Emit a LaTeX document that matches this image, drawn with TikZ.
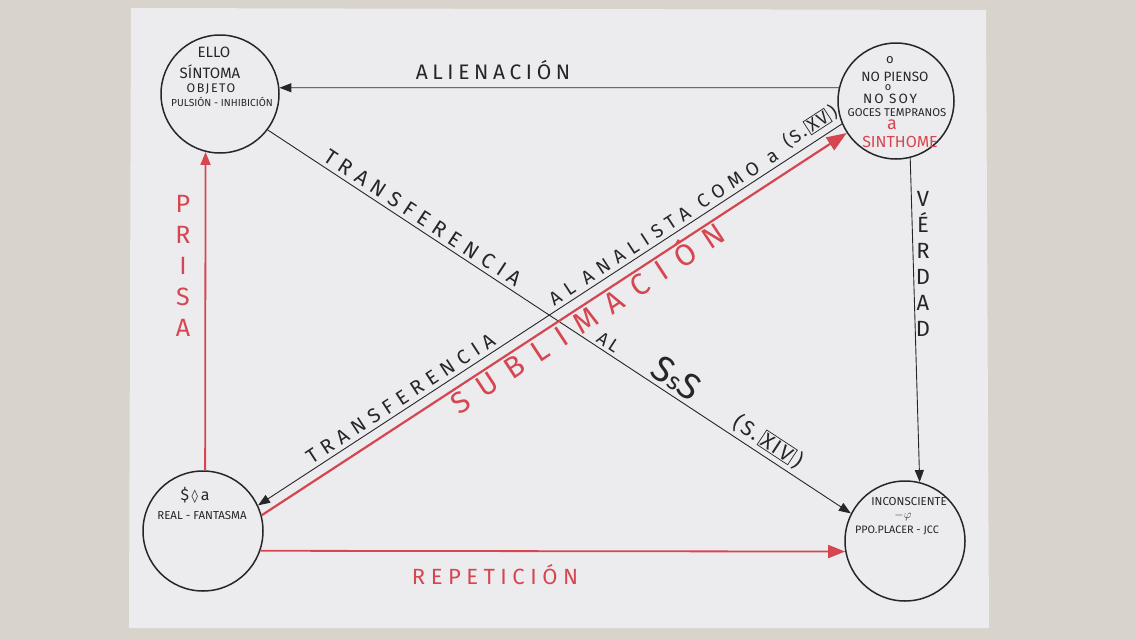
\documentclass[tikz,border=0pt]{standalone}
\usepackage{fontspec}
\setmainfont{Fira Sans}
\newfontfamily\symfam{DejaVu Sans}
\usetikzlibrary{arrows.meta}
\definecolor{ink}{RGB}{38,38,42}
\definecolor{pen}{RGB}{214,70,80}
\definecolor{paper}{RGB}{236,236,238}
\definecolor{desk}{RGB}{216,212,204}
\newcommand{\fs}[2]{\fontsize{#1}{#2}\selectfont}
\newcommand{\spaced}[1]{\addfontfeatures{LetterSpace=#1}}
\newcommand{\boxnum}[1]{\,{\fboxsep=1.2pt\fboxrule=0.7pt\fbox{#1}}\,}
\begin{document}
\begin{tikzpicture}[x=1pt,y=-1pt,
  state/.style={circle,draw=ink,line width=1.5pt,minimum size=#1,inner sep=0pt},
  txt/.style={inner sep=0pt,text=ink},
  rtxt/.style={inner sep=0pt,text=pen},
  blk/.style={draw=ink,line width=0.9pt,-{Triangle[length=12pt,width=9pt]}},
  redl/.style={draw=pen,line width=1.8pt,-{Triangle[length=13pt,width=10pt]}},
  redbig/.style={draw=pen,line width=2.2pt,-{Triangle[length=20pt,width=15pt]}},
  lab/.style={inner sep=1pt,text=ink},
]
\useasboundingbox (0,0) rectangle (1136,640);
\fill[desk] (0,0) rectangle (1136,640);
\fill[paper] (131,8) -- (986,10) -- (989,628) -- (129,628) -- cycle;

% circles
\node[state=118pt] (tl) at (220,94) {};
\node[state=116pt] (tr) at (896,101) {};
\node[state=120pt] (bl) at (203,531) {};
\node[state=120pt] (br) at (905,541) {};

% texts in TL
\node[txt,font=\fs{15}{15}] (tla) at (214,52) {ELLO};
\node[txt,font=\fs{15}{15}] (tlb) at (210,72) {SÍNTOMA};
\node[txt,font=\fs{12.5}{12.5}\spaced{12}] (tlc) at (211,89) {OBJETO};
\node[txt,font=\fs{10.2}{10.2}] (tld) at (222,102) {PULSIÓN - INHIBICIÓN};

% texts in TR
\node[txt,font=\fs{13}{13}] (tra) at (890,60) {o};
\node[txt,font=\fs{13.5}{13.5}] (trb) at (895,77) {NO PIENSO};
\node[txt,font=\fs{11}{11}] (trc) at (888,88) {o};
\node[txt,font=\fs{13.5}{13.5}\spaced{15}] (trd) at (890,99) {NO SOY};
\node[txt,font=\fs{11.3}{11.3}] (tre) at (897,113) {GOCES TEMPRANOS};
\node[rtxt,font=\fs{18}{18}] (trf) at (892,125) {a};
\node[rtxt,font=\fs{16}{16}] (trg) at (900,142) {SINTHOME};

% texts in BL
\node[txt,font=\fs{16}{16}] (bla) at (195,495) {\$\,{\symfam\fs{13}{13}◊}\,a};
\node[txt,font=\fs{11.5}{11.5}] (blb) at (202,516) {REAL - FANTASMA};

% texts in BR
\node[txt,font=\fs{11.5}{11.5}] (bra) at (909,502) {INCONSCIENTE};
\node[txt,font=\fs{13}{13}] (brb) at (903,516) {$-\varphi$};
\node[txt,font=\fs{10.8}{10.8}] (brc) at (897,530) {PPO.PLACER - JCC};

% ALIENACION
\draw[blk] (tr.167) -- (tl.6);
\node[txt,font=\fs{21}{21}\spaced{22}] (alien) at (493,70) {ALIENACIÓN};

% VERDAD
\draw[blk] (tr.-76) -- (br.76);
\node[txt,align=center,font=\fs{22}{26}] (verdad) at (923,264) {V\\É\\R\\D\\A\\D};

% PRISA
\draw[redl] (bl.88) -- (tl.-104);
\node[rtxt,align=center,font=\fs{25}{31}] (prisa) at (183,266) {P\\R\\I\\S\\A};

% REPETICION
\draw[redl,-{Triangle[length=17pt,width=13pt]}] (bl.-19) -- (br.190);
\node[rtxt,font=\fs{22}{22}\spaced{25}] (repet) at (495,575) {REPETICIÓN};

% descending black diagonal
\draw[blk] (tl.-37) --
  node[lab,sloped,above=3pt,pos=0.255,font=\fs{21}{21}\spaced{32}] {TRANSFERENCIA}
  node[lab,sloped,above=2pt,pos=0.575,font=\fs{18}{18}\spaced{20}] {AL}
  node[lab,sloped,above=3pt,pos=0.685,font=\fs{36}{36}\spaced{40}] {S{\fs{24}{24}s}S}
  node[lab,sloped,above=3pt,pos=0.845,font=\fs{21}{21}\spaced{10}] {(S.\boxnum{XIV})}
  (br.153);

% ascending black diagonal
\draw[blk] (tr.203) --
  node[lab,sloped,above=3pt,pos=0.745,font=\fs{20}{20}\spaced{32}] {TRANSFERENCIA}
  node[lab,sloped,above=3pt,pos=0.295,font=\fs{19}{19}\spaced{35}] {AL ANALISTA COMO a}
  node[lab,sloped,above=5pt,pos=0.04,font=\fs{18}{18}\spaced{10}] {(S.\boxnum{XV})}
  (bl.25);

% red SUBLIMACION
\draw[redbig] (bl.15) --
  node[rtxt,sloped,below=-4pt,pos=0.545,font=\fs{30}{30}\spaced{45}] {SUBLIMACIÓN}
  (tr.213);
\end{tikzpicture}
\end{document}
